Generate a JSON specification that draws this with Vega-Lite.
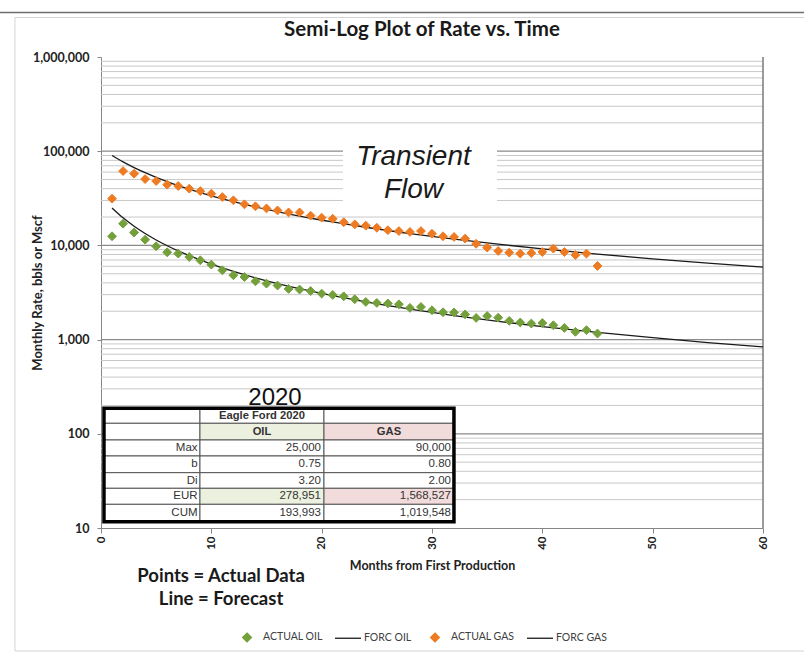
{
  "$schema": "https://vega.github.io/schema/vega-lite/v6.json",
  "width": 662,
  "height": 471,
  "autosize": {"type": "none"},
  "padding": {"left": 101, "top": 57, "right": 41, "bottom": 124},
  "background": "white",
  "config": {"view": {"stroke": null}, "font": "Lato"},
  "title": {"text": "Semi-Log Plot of Rate vs. Time", "font": "Lato", "fontSize": 20.5, "fontWeight": "bold", "color": "#1a1a1a", "anchor": "middle", "dx": -10, "dy": 37, "offset": 8, "frame": "group"},
  "datasets": {
    "gridMinor": [
      {"rate": 20}, {"rate": 30}, {"rate": 40}, {"rate": 50}, {"rate": 60}, {"rate": 70}, {"rate": 80}, {"rate": 90},
      {"rate": 200}, {"rate": 300}, {"rate": 400}, {"rate": 500}, {"rate": 600}, {"rate": 700}, {"rate": 800}, {"rate": 900},
      {"rate": 2000}, {"rate": 3000}, {"rate": 4000}, {"rate": 5000}, {"rate": 6000}, {"rate": 7000}, {"rate": 8000}, {"rate": 9000},
      {"rate": 20000}, {"rate": 30000}, {"rate": 40000}, {"rate": 50000}, {"rate": 60000}, {"rate": 70000}, {"rate": 80000}, {"rate": 90000},
      {"rate": 200000}, {"rate": 300000}, {"rate": 400000}, {"rate": 500000}, {"rate": 600000}, {"rate": 700000}, {"rate": 800000}, {"rate": 900000}
    ],
    "gridMajor": [{"rate": 100}, {"rate": 1000}, {"rate": 10000}, {"rate": 100000}],
    "actual": [
      {"month": 1, "rate": 12500, "series": "ACTUAL OIL"}, {"month": 2, "rate": 17000, "series": "ACTUAL OIL"}, {"month": 3, "rate": 13700, "series": "ACTUAL OIL"}, {"month": 4, "rate": 11500, "series": "ACTUAL OIL"}, {"month": 5, "rate": 9780, "series": "ACTUAL OIL"},
      {"month": 6, "rate": 8450, "series": "ACTUAL OIL"}, {"month": 7, "rate": 8190, "series": "ACTUAL OIL"}, {"month": 8, "rate": 7530, "series": "ACTUAL OIL"}, {"month": 9, "rate": 6950, "series": "ACTUAL OIL"}, {"month": 10, "rate": 6250, "series": "ACTUAL OIL"},
      {"month": 11, "rate": 5440, "series": "ACTUAL OIL"}, {"month": 12, "rate": 4820, "series": "ACTUAL OIL"}, {"month": 13, "rate": 4620, "series": "ACTUAL OIL"}, {"month": 14, "rate": 4160, "series": "ACTUAL OIL"}, {"month": 15, "rate": 3930, "series": "ACTUAL OIL"},
      {"month": 16, "rate": 3750, "series": "ACTUAL OIL"}, {"month": 17, "rate": 3450, "series": "ACTUAL OIL"}, {"month": 18, "rate": 3400, "series": "ACTUAL OIL"}, {"month": 19, "rate": 3280, "series": "ACTUAL OIL"}, {"month": 20, "rate": 3080, "series": "ACTUAL OIL"},
      {"month": 21, "rate": 2980, "series": "ACTUAL OIL"}, {"month": 22, "rate": 2880, "series": "ACTUAL OIL"}, {"month": 23, "rate": 2680, "series": "ACTUAL OIL"}, {"month": 24, "rate": 2510, "series": "ACTUAL OIL"}, {"month": 25, "rate": 2450, "series": "ACTUAL OIL"},
      {"month": 26, "rate": 2420, "series": "ACTUAL OIL"}, {"month": 27, "rate": 2370, "series": "ACTUAL OIL"}, {"month": 28, "rate": 2170, "series": "ACTUAL OIL"}, {"month": 29, "rate": 2220, "series": "ACTUAL OIL"}, {"month": 30, "rate": 2050, "series": "ACTUAL OIL"},
      {"month": 31, "rate": 1950, "series": "ACTUAL OIL"}, {"month": 32, "rate": 1940, "series": "ACTUAL OIL"}, {"month": 33, "rate": 1850, "series": "ACTUAL OIL"}, {"month": 34, "rate": 1700, "series": "ACTUAL OIL"}, {"month": 35, "rate": 1780, "series": "ACTUAL OIL"},
      {"month": 36, "rate": 1710, "series": "ACTUAL OIL"}, {"month": 37, "rate": 1580, "series": "ACTUAL OIL"}, {"month": 38, "rate": 1520, "series": "ACTUAL OIL"}, {"month": 39, "rate": 1480, "series": "ACTUAL OIL"}, {"month": 40, "rate": 1500, "series": "ACTUAL OIL"},
      {"month": 41, "rate": 1420, "series": "ACTUAL OIL"}, {"month": 42, "rate": 1330, "series": "ACTUAL OIL"}, {"month": 43, "rate": 1210, "series": "ACTUAL OIL"}, {"month": 44, "rate": 1260, "series": "ACTUAL OIL"}, {"month": 45, "rate": 1160, "series": "ACTUAL OIL"},
      {"month": 1, "rate": 31350, "series": "ACTUAL GAS"}, {"month": 2, "rate": 61500, "series": "ACTUAL GAS"}, {"month": 3, "rate": 57700, "series": "ACTUAL GAS"}, {"month": 4, "rate": 50600, "series": "ACTUAL GAS"}, {"month": 5, "rate": 48200, "series": "ACTUAL GAS"},
      {"month": 6, "rate": 44100, "series": "ACTUAL GAS"}, {"month": 7, "rate": 42700, "series": "ACTUAL GAS"}, {"month": 8, "rate": 40000, "series": "ACTUAL GAS"}, {"month": 9, "rate": 37700, "series": "ACTUAL GAS"}, {"month": 10, "rate": 35400, "series": "ACTUAL GAS"},
      {"month": 11, "rate": 32600, "series": "ACTUAL GAS"}, {"month": 12, "rate": 30100, "series": "ACTUAL GAS"}, {"month": 13, "rate": 27300, "series": "ACTUAL GAS"}, {"month": 14, "rate": 26000, "series": "ACTUAL GAS"}, {"month": 15, "rate": 24700, "series": "ACTUAL GAS"},
      {"month": 16, "rate": 23500, "series": "ACTUAL GAS"}, {"month": 17, "rate": 22400, "series": "ACTUAL GAS"}, {"month": 18, "rate": 22400, "series": "ACTUAL GAS"}, {"month": 19, "rate": 20700, "series": "ACTUAL GAS"}, {"month": 20, "rate": 19700, "series": "ACTUAL GAS"},
      {"month": 21, "rate": 19200, "series": "ACTUAL GAS"}, {"month": 22, "rate": 17600, "series": "ACTUAL GAS"}, {"month": 23, "rate": 16700, "series": "ACTUAL GAS"}, {"month": 24, "rate": 16200, "series": "ACTUAL GAS"}, {"month": 25, "rate": 15400, "series": "ACTUAL GAS"},
      {"month": 26, "rate": 14500, "series": "ACTUAL GAS"}, {"month": 27, "rate": 14200, "series": "ACTUAL GAS"}, {"month": 28, "rate": 13900, "series": "ACTUAL GAS"}, {"month": 29, "rate": 14200, "series": "ACTUAL GAS"}, {"month": 30, "rate": 13300, "series": "ACTUAL GAS"},
      {"month": 31, "rate": 12500, "series": "ACTUAL GAS"}, {"month": 32, "rate": 12300, "series": "ACTUAL GAS"}, {"month": 33, "rate": 11800, "series": "ACTUAL GAS"}, {"month": 34, "rate": 10400, "series": "ACTUAL GAS"}, {"month": 35, "rate": 9480, "series": "ACTUAL GAS"},
      {"month": 36, "rate": 8730, "series": "ACTUAL GAS"}, {"month": 37, "rate": 8390, "series": "ACTUAL GAS"}, {"month": 38, "rate": 8190, "series": "ACTUAL GAS"}, {"month": 39, "rate": 8300, "series": "ACTUAL GAS"}, {"month": 40, "rate": 8510, "series": "ACTUAL GAS"},
      {"month": 41, "rate": 9250, "series": "ACTUAL GAS"}, {"month": 42, "rate": 8510, "series": "ACTUAL GAS"}, {"month": 43, "rate": 7910, "series": "ACTUAL GAS"}, {"month": 44, "rate": 8190, "series": "ACTUAL GAS"}, {"month": 45, "rate": 6050, "series": "ACTUAL GAS"}
    ],
    "forecast": [
      {"month": 1, "rate": 25000, "series": "FORC OIL"}, {"month": 2, "rate": 19605, "series": "FORC OIL"}, {"month": 3, "rate": 15963, "series": "FORC OIL"}, {"month": 4, "rate": 13360, "series": "FORC OIL"}, {"month": 5, "rate": 11418, "series": "FORC OIL"},
      {"month": 6, "rate": 9921, "series": "FORC OIL"}, {"month": 7, "rate": 8737, "series": "FORC OIL"}, {"month": 8, "rate": 7780, "series": "FORC OIL"}, {"month": 10, "rate": 6335, "series": "FORC OIL"}, {"month": 12, "rate": 5302, "series": "FORC OIL"},
      {"month": 14, "rate": 4531, "series": "FORC OIL"}, {"month": 16, "rate": 3937, "series": "FORC OIL"}, {"month": 18, "rate": 3468, "series": "FORC OIL"}, {"month": 20, "rate": 3088, "series": "FORC OIL"}, {"month": 24, "rate": 2514, "series": "FORC OIL"},
      {"month": 28, "rate": 2104, "series": "FORC OIL"}, {"month": 32, "rate": 1798, "series": "FORC OIL"}, {"month": 36, "rate": 1562, "series": "FORC OIL"}, {"month": 40, "rate": 1376, "series": "FORC OIL"}, {"month": 45, "rate": 1192, "series": "FORC OIL"},
      {"month": 50, "rate": 1047, "series": "FORC OIL"}, {"month": 55, "rate": 930, "series": "FORC OIL"}, {"month": 60, "rate": 835, "series": "FORC OIL"},
      {"month": 1, "rate": 90000, "series": "FORC GAS"}, {"month": 2, "rate": 76966, "series": "FORC GAS"}, {"month": 3, "rate": 66975, "series": "FORC GAS"}, {"month": 4, "rate": 59100, "series": "FORC GAS"}, {"month": 5, "rate": 52748, "series": "FORC GAS"},
      {"month": 6, "rate": 47525, "series": "FORC GAS"}, {"month": 7, "rate": 43168, "series": "FORC GAS"}, {"month": 8, "rate": 39478, "series": "FORC GAS"}, {"month": 9, "rate": 36320, "series": "FORC GAS"}, {"month": 10, "rate": 33591, "series": "FORC GAS"},
      {"month": 12, "rate": 29114, "series": "FORC GAS"}, {"month": 15, "rate": 24127, "series": "FORC GAS"}, {"month": 18, "rate": 20494, "series": "FORC GAS"}, {"month": 21, "rate": 17738, "series": "FORC GAS"}, {"month": 24, "rate": 15585, "series": "FORC GAS"},
      {"month": 28, "rate": 13359, "series": "FORC GAS"}, {"month": 32, "rate": 11647, "series": "FORC GAS"}, {"month": 36, "rate": 10294, "series": "FORC GAS"}, {"month": 40, "rate": 9199, "series": "FORC GAS"}, {"month": 45, "rate": 8096, "series": "FORC GAS"},
      {"month": 50, "rate": 7211, "series": "FORC GAS"}, {"month": 55, "rate": 6486, "series": "FORC GAS"}, {"month": 60, "rate": 5882, "series": "FORC GAS"}
    ],
    "tableCells": [
      {"c1": 0.27, "c2": 8.97, "r1": 186.5, "r2": 129.3, "kind": "plain"}, {"c1": 8.97, "c2": 20.21, "r1": 186.5, "r2": 129.3, "kind": "plain"}, {"c1": 20.21, "c2": 31.99, "r1": 186.5, "r2": 129.3, "kind": "plain"},
      {"c1": 0.27, "c2": 8.97, "r1": 129.3, "r2": 85.96, "kind": "plain"}, {"c1": 8.97, "c2": 20.21, "r1": 129.3, "r2": 85.96, "kind": "oil"}, {"c1": 20.21, "c2": 31.99, "r1": 129.3, "r2": 85.96, "kind": "gas"},
      {"c1": 0.27, "c2": 8.97, "r1": 85.96, "r2": 58.13, "kind": "plain"}, {"c1": 8.97, "c2": 20.21, "r1": 85.96, "r2": 58.13, "kind": "plain"}, {"c1": 20.21, "c2": 31.99, "r1": 85.96, "r2": 58.13, "kind": "plain"},
      {"c1": 0.27, "c2": 8.97, "r1": 58.13, "r2": 38.64, "kind": "plain"}, {"c1": 8.97, "c2": 20.21, "r1": 58.13, "r2": 38.64, "kind": "plain"}, {"c1": 20.21, "c2": 31.99, "r1": 58.13, "r2": 38.64, "kind": "plain"},
      {"c1": 0.27, "c2": 8.97, "r1": 38.64, "r2": 26.39, "kind": "plain"}, {"c1": 8.97, "c2": 20.21, "r1": 38.64, "r2": 26.39, "kind": "plain"}, {"c1": 20.21, "c2": 31.99, "r1": 38.64, "r2": 26.39, "kind": "plain"},
      {"c1": 0.27, "c2": 8.97, "r1": 26.39, "r2": 17.84, "kind": "plain"}, {"c1": 8.97, "c2": 20.21, "r1": 26.39, "r2": 17.84, "kind": "oil"}, {"c1": 20.21, "c2": 31.99, "r1": 26.39, "r2": 17.84, "kind": "gas"},
      {"c1": 0.27, "c2": 8.97, "r1": 17.84, "r2": 11.67, "kind": "plain"}, {"c1": 8.97, "c2": 20.21, "r1": 17.84, "r2": 11.67, "kind": "plain"}, {"c1": 20.21, "c2": 31.99, "r1": 17.84, "r2": 11.67, "kind": "plain"}
    ],
    "tableText": [
      {"tx": 8.75, "ty": 70.5, "t": "Max"}, {"tx": 19.94, "ty": 70.5, "t": "25,000"}, {"tx": 31.72, "ty": 70.5, "t": "90,000"},
      {"tx": 8.75, "ty": 47.5, "t": "b"}, {"tx": 19.94, "ty": 47.5, "t": "0.75"}, {"tx": 31.72, "ty": 47.5, "t": "0.80"},
      {"tx": 8.75, "ty": 31.9, "t": "Di"}, {"tx": 19.94, "ty": 31.9, "t": "3.20"}, {"tx": 31.72, "ty": 31.9, "t": "2.00"},
      {"tx": 8.75, "ty": 21.7, "t": "EUR"}, {"tx": 19.94, "ty": 21.7, "t": "278,951"}, {"tx": 31.72, "ty": 21.7, "t": "1,568,527"},
      {"tx": 8.75, "ty": 14.4, "t": "CUM"}, {"tx": 19.94, "ty": 14.4, "t": "193,993"}, {"tx": 31.72, "ty": 14.4, "t": "1,019,548"}
    ],
    "tableHead": [
      {"tx": 14.59, "ty": 155.3, "t": "Eagle Ford 2020"}, {"tx": 14.59, "ty": 105.3, "t": "OIL"}, {"tx": 26.1, "ty": 105.3, "t": "GAS"}
    ],
    "notes": [
      {"tx": 28.32, "ty": 71380, "t": "Transient"}, {"tx": 28.32, "ty": 31860, "t": "Flow"}
    ],
    "caption": [
      {"tx": 10.88, "ty": 2.672, "t": "Points = Actual Data"}, {"tx": 10.88, "ty": 1.523, "t": "Line = Forecast"}
    ],
    "year": [{"tx": 15.77, "ty": 202.2, "t": "2020"}]
  },
  "layer": [
    {
      "data": {"name": "gridMinor"},
      "mark": {"type": "rule", "color": "#c8c8c8", "strokeWidth": 1},
      "encoding": {"y": {"field": "rate", "type": "quantitative", "scale": {"type": "log", "domain": [10, 1000000], "nice": false}}}
    },
    {
      "data": {"name": "gridMajor"},
      "mark": {"type": "rule", "color": "#8a8a8a", "strokeWidth": 1.2},
      "encoding": {"y": {"field": "rate", "type": "quantitative", "scale": {"type": "log", "domain": [10, 1000000], "nice": false}}}
    },
    {
      "data": {"values": [{}]},
      "mark": {"type": "rule", "color": "#7a7a7a", "strokeWidth": 1.5},
      "encoding": {"x": {"datum": 60, "type": "quantitative", "scale": {"domain": [0, 60], "nice": false, "zero": false}}}
    },
    {
      "data": {"values": [{}]},
      "mark": {"type": "rect", "fill": "white"},
      "encoding": {
        "x": {"datum": 21.93, "type": "quantitative", "scale": {"domain": [0, 60], "nice": false, "zero": false}},
        "x2": {"datum": 35.89},
        "y": {"datum": 141500, "type": "quantitative", "scale": {"type": "log", "domain": [10, 1000000], "nice": false}},
        "y2": {"datum": 25560}
      }
    },
    {
      "data": {"name": "forecast"},
      "mark": {"type": "line", "strokeWidth": 1.3, "interpolate": "monotone", "color": "#1a1a1a"},
      "encoding": {
        "x": {"field": "month", "type": "quantitative", "scale": {"domain": [0, 60], "nice": false, "zero": false}},
        "y": {"field": "rate", "type": "quantitative", "scale": {"type": "log", "domain": [10, 1000000], "nice": false}},
        "detail": {"field": "series", "type": "nominal"}
      }
    },
    {
      "data": {"name": "actual"},
      "mark": {"type": "point", "filled": true, "strokeWidth": 1, "opacity": 1, "size": 676},
      "encoding": {
        "x": {"field": "month", "type": "quantitative", "scale": {"domain": [0, 60], "nice": false, "zero": false},
          "axis": {"values": [0, 10, 20, 30, 40, 50, 60], "labelAngle": -90, "labelFont": "Lato", "labelFontWeight": "bold", "labelFontSize": 11.5, "labelColor": "#222", "labelPadding": 3, "labelFlush": false, "labelOverlap": false, "tickSize": 5, "tickColor": "#868686", "domainColor": "#868686", "grid": false,
            "title": "Months from First Production", "titleFont": "Lato", "titleFontSize": 12.5, "titleFontWeight": "bold", "titleColor": "#222", "titlePadding": 10}},
        "y": {"field": "rate", "type": "quantitative", "scale": {"type": "log", "domain": [10, 1000000], "nice": false},
          "axis": {"values": [10, 100, 1000, 10000, 100000, 1000000], "format": ",", "labelFont": "Lato", "labelFontWeight": "bold", "labelFontSize": 12.5, "labelColor": "#222", "labelPadding": 8, "labelFlush": false, "labelOverlap": false, "tickSize": 4, "tickColor": "#868686", "domainColor": "#868686", "grid": false,
            "title": "Monthly Rate, bbls or Mscf", "titleFont": "Lato", "titleFontSize": 13, "titleFontWeight": "bold", "titleColor": "#222", "titleX": -64, "titleBaseline": "middle"}},
        "fill": {"field": "series", "type": "nominal", "scale": {"domain": ["ACTUAL OIL", "FORC OIL", "ACTUAL GAS", "FORC GAS"], "range": ["#74A03C", "#1a1a1a", "#EE7B22", "#1a1a1a"]},
          "legend": {"orient": "none", "legendX": 132, "legendY": 566, "direction": "horizontal", "title": null, "labelFont": "Lato", "labelFontSize": 10.5, "labelColor": "#404040", "symbolSize": 676, "symbolStrokeWidth": 1.3, "labelOffset": 2, "columnPadding": 9, "padding": 0}},
        "stroke": {"field": "series", "type": "nominal", "scale": {"domain": ["ACTUAL OIL", "FORC OIL", "ACTUAL GAS", "FORC GAS"], "range": ["#74A03C", "#1a1a1a", "#EE7B22", "#1a1a1a"]},
          "legend": {"orient": "none", "legendX": 132, "legendY": 566, "direction": "horizontal", "title": null, "labelFont": "Lato", "labelFontSize": 10.5, "labelColor": "#404040", "symbolSize": 676, "symbolStrokeWidth": 1.3, "labelOffset": 2, "columnPadding": 9, "padding": 0}},
        "shape": {"field": "series", "type": "nominal", "scale": {"domain": ["ACTUAL OIL", "FORC OIL", "ACTUAL GAS", "FORC GAS"], "range": ["M0,-0.34L0.34,0L0,0.34L-0.34,0Z", "stroke", "M0,-0.34L0.34,0L0,0.34L-0.34,0Z", "stroke"]},
          "legend": {"orient": "none", "legendX": 132, "legendY": 566, "direction": "horizontal", "title": null, "labelFont": "Lato", "labelFontSize": 10.5, "labelColor": "#404040", "symbolSize": 676, "symbolStrokeWidth": 1.3, "labelOffset": 2, "columnPadding": 9, "padding": 0}}
      }
    },
    {
      "data": {"name": "tableCells"},
      "mark": {"type": "rect", "stroke": "#555555", "strokeWidth": 1},
      "encoding": {
        "x": {"field": "c1", "type": "quantitative", "scale": {"domain": [0, 60], "nice": false, "zero": false}},
        "x2": {"field": "c2"},
        "y": {"field": "r1", "type": "quantitative", "scale": {"type": "log", "domain": [10, 1000000], "nice": false}},
        "y2": {"field": "r2"},
        "color": {"field": "kind", "type": "nominal", "scale": {"domain": ["plain", "oil", "gas"], "range": ["#ffffff", "#EBF1DE", "#F2DCDB"]}, "legend": null}
      }
    },
    {
      "data": {"values": [{}]},
      "mark": {"type": "rect", "filled": false, "stroke": "#000000", "strokeWidth": 3.5},
      "encoding": {
        "x": {"datum": 0.27, "type": "quantitative", "scale": {"domain": [0, 60], "nice": false, "zero": false}},
        "x2": {"datum": 31.99},
        "y": {"datum": 186.5, "type": "quantitative", "scale": {"type": "log", "domain": [10, 1000000], "nice": false}},
        "y2": {"datum": 11.67}
      }
    },
    {
      "data": {"name": "tableText"},
      "mark": {"type": "text", "align": "right", "baseline": "middle", "font": "Liberation Sans", "fontSize": 11.5, "color": "#333333"},
      "encoding": {
        "x": {"field": "tx", "type": "quantitative", "scale": {"domain": [0, 60], "nice": false, "zero": false}},
        "y": {"field": "ty", "type": "quantitative", "scale": {"type": "log", "domain": [10, 1000000], "nice": false}},
        "text": {"field": "t"}
      }
    },
    {
      "data": {"name": "tableHead"},
      "mark": {"type": "text", "align": "center", "baseline": "middle", "font": "Liberation Sans", "fontSize": 11.2, "fontWeight": "bold", "color": "#333333"},
      "encoding": {
        "x": {"field": "tx", "type": "quantitative", "scale": {"domain": [0, 60], "nice": false, "zero": false}},
        "y": {"field": "ty", "type": "quantitative", "scale": {"type": "log", "domain": [10, 1000000], "nice": false}},
        "text": {"field": "t"}
      }
    },
    {
      "data": {"name": "year"},
      "mark": {"type": "text", "align": "center", "baseline": "alphabetic", "font": "Liberation Sans", "fontSize": 24, "color": "#111111"},
      "encoding": {
        "x": {"field": "tx", "type": "quantitative", "scale": {"domain": [0, 60], "nice": false, "zero": false}},
        "y": {"field": "ty", "type": "quantitative", "scale": {"type": "log", "domain": [10, 1000000], "nice": false}},
        "text": {"field": "t"}
      }
    },
    {
      "data": {"name": "notes"},
      "mark": {"type": "text", "align": "center", "baseline": "alphabetic", "font": "Liberation Sans", "fontSize": 28, "fontStyle": "italic", "color": "#1a1a1a"},
      "encoding": {
        "x": {"field": "tx", "type": "quantitative", "scale": {"domain": [0, 60], "nice": false, "zero": false}},
        "y": {"field": "ty", "type": "quantitative", "scale": {"type": "log", "domain": [10, 1000000], "nice": false}},
        "text": {"field": "t"}
      }
    },
    {
      "data": {"name": "caption"},
      "mark": {"type": "text", "align": "center", "baseline": "alphabetic", "font": "Lato", "fontSize": 18.5, "fontWeight": "bold", "color": "#1a1a1a"},
      "encoding": {
        "x": {"field": "tx", "type": "quantitative", "scale": {"domain": [0, 60], "nice": false, "zero": false}},
        "y": {"field": "ty", "type": "quantitative", "scale": {"type": "log", "domain": [10, 1000000], "nice": false}},
        "text": {"field": "t"}
      }
    },
    {
      "data": {"values": [{}]},
      "mark": {"type": "rule", "color": "#6e6e6e", "strokeWidth": 1.5},
      "encoding": {
        "x": {"datum": -9.2, "type": "quantitative", "scale": {"domain": [0, 60], "nice": false, "zero": false}},
        "x2": {"datum": 63.8},
        "y": {"datum": 2968000, "type": "quantitative", "scale": {"type": "log", "domain": [10, 1000000], "nice": false}}
      }
    },
    {
      "data": {"values": [{}]},
      "mark": {"type": "rect", "filled": false, "stroke": "#d4d4d4", "strokeWidth": 1},
      "encoding": {
        "x": {"datum": -7.8, "type": "quantitative", "scale": {"domain": [0, 60], "nice": false, "zero": false}},
        "x2": {"datum": 64.5},
        "y": {"datum": 2626000, "type": "quantitative", "scale": {"type": "log", "domain": [10, 1000000], "nice": false}},
        "y2": {"datum": 0.4947}
      }
    }
  ]
}
